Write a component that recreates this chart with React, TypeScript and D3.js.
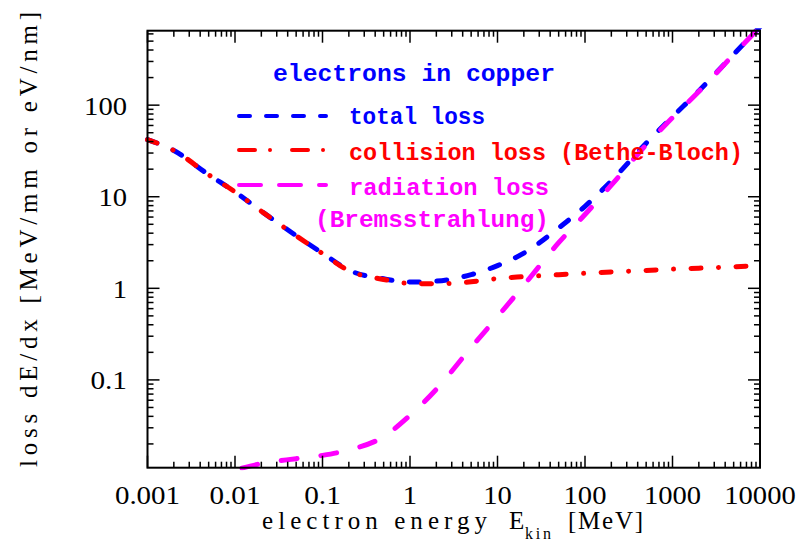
import * as d3 from 'd3';

// electron kinetic energy grid [MeV]
const energy = [0.001, 0.002, 0.005, 0.01, 0.02, 0.05, 0.1, 0.2, 0.5, 1, 2, 5, 10, 20, 50, 100, 200, 500, 1000, 2000, 5000, 10000];
// dE/dx [MeV/mm]
const totalLoss = [42, 32, 17.4, 11.3, 6.96, 3.76, 2.42, 1.58, 1.27, 1.17, 1.2, 1.41, 1.77, 2.42, 4.56, 7.86, 14.9, 38.4, 74.6, 143, 359, 717];
const collisionLoss = [42, 32, 17.4, 11.3, 6.95, 3.75, 2.4, 1.56, 1.25, 1.13, 1.12, 1.18, 1.28, 1.34, 1.41, 1.46, 1.51, 1.57, 1.62, 1.66, 1.72, 1.78];
const radEnergy = [0.012, 0.02, 0.05, 0.1, 0.2, 0.5, 1, 2, 5, 10, 20, 50, 100, 200, 500, 1000, 2000, 5000, 10000];
const radiationLoss = [0.0109, 0.0122, 0.0138, 0.015, 0.0172, 0.024, 0.041, 0.079, 0.226, 0.49, 1.08, 3.15, 6.4, 13.4, 36.8, 73, 141, 357, 715];

const xTickValues = [0.001, 0.01, 0.1, 1, 10, 100, 1000, 10000];
const xTickLabels = ['0.001', '0.01', '0.1', '1', '10', '100', '1000', '10000'];
const yTickValues = [0.1, 1, 10, 100];
const yTickLabels = ['0.1', '1', '10', '100'];

const BLUE = '#0000ff';
const RED = '#ff0000';
const MAGENTA = '#ff00ff';
const SERIF = "'Liberation Serif', 'DejaVu Serif', serif";
const MONO = "'Liberation Mono', 'DejaVu Sans Mono', monospace";

const labelWidth = (s: string) => s.replace(/\./g, '').length * 14.3 + (s.match(/\./g)?.length ?? 0) * 8;

export default function App() {
  const x = d3.scaleLog().domain([0.001, 10000]).range([147.5, 760]);
  const y = d3.scaleLog().domain([0.011, 650]).range([467.7, 30.7]);
  const [xl, xr] = x.range();
  const [yb, yt] = y.range();

  const line = d3.line<[number, number]>()
    .x(d => x(d[0])).y(d => y(d[1]))
    .curve(d3.curveMonotoneX);

  const totPath = line(energy.map((e, i) => [e, totalLoss[i]]))!;
  const colPath = line(energy.map((e, i) => [e, collisionLoss[i]]))!;
  const radPath = line(radEnergy.map((e, i) => [e, radiationLoss[i]]))!;

  const isMajor = (v: number) => Math.abs(Math.log10(v) - Math.round(Math.log10(v))) < 1e-6;
  const xTicks = x.ticks();
  const yTicks = y.ticks().filter(v => v >= 0.011 && v <= 650);

  const serif = { fontFamily: SERIF };
  const mono = { fontFamily: MONO, fontWeight: 700 };

  return (
    <svg width={801} height={542} style={{ position: 'absolute', left: 0, top: 0, background: '#fff' }}>
      <defs>
        <clipPath id="plotClip">
          <rect x={xl - 2.5} y={yt - 2.5} width={xr - xl + 5} height={yb - yt + 5} />
        </clipPath>
      </defs>

      {/* curves */}
      <g clipPath="url(#plotClip)" fill="none" strokeWidth={5} strokeLinecap="round" strokeLinejoin="round">
        <path d={totPath} stroke={BLUE} strokeDasharray="10 17.5" />
        <path d={colPath} stroke={RED} strokeDasharray="10 17.5 0.01 17.5" />
        <path d={radPath} stroke={MAGENTA} strokeDasharray="16 24" />
      </g>

      {/* frame and ticks */}
      <rect x={xl} y={yt} width={xr - xl} height={yb - yt} fill="none" stroke="#000" strokeWidth={2} />
      <g stroke="#000" strokeWidth={1.5}>
        {xTicks.map((v, i) => {
          const len = isMajor(v) ? 12 : 6;
          return (
            <g key={'xt' + i}>
              <line x1={x(v)} x2={x(v)} y1={yb} y2={yb - len} />
              <line x1={x(v)} x2={x(v)} y1={yt} y2={yt + len} />
            </g>
          );
        })}
        {yTicks.map((v, i) => {
          const len = isMajor(v) ? 12 : 6;
          return (
            <g key={'yt' + i}>
              <line x1={xl} x2={xl + len} y1={y(v)} y2={y(v)} />
              <line x1={xr} x2={xr - len} y1={y(v)} y2={y(v)} />
            </g>
          );
        })}
      </g>

      {/* tick labels */}
      <g style={serif} fontSize={25} fill="#000">
        {xTickValues.map((v, i) => (
          <text key={'xl' + i} x={x(v)} y={504} textAnchor="middle"
            textLength={labelWidth(xTickLabels[i])} lengthAdjust="spacingAndGlyphs">{xTickLabels[i]}</text>
        ))}
        {yTickValues.map((v, i) => (
          <text key={'yl' + i} x={127} y={y(v) + 9.5} textAnchor="end"
            textLength={labelWidth(yTickLabels[i])} lengthAdjust="spacingAndGlyphs">{yTickLabels[i]}</text>
        ))}
      </g>

      {/* axis titles */}
      <g style={serif} fill="#000">
        <text x={262} y={529} fontSize={25} textLength={225} lengthAdjust="spacing">electron energy</text>
        <text x={509} y={529} fontSize={25}>E</text>
        <text x={525} y={539} fontSize={16} textLength={26} lengthAdjust="spacing">kin</text>
        <text x={568} y={529} fontSize={25} textLength={75} lengthAdjust="spacing">[MeV]</text>
        <text transform="translate(37,239.5) rotate(-90)" textAnchor="middle" fontSize={25}
          textLength={455} lengthAdjust="spacing">loss dE/dx [MeV/mm or eV/nm]</text>
      </g>

      {/* legend */}
      <g style={mono} fontSize={24}>
        <text x={273} y={81} fill={BLUE} textLength={282} lengthAdjust="spacingAndGlyphs">electrons in copper</text>
        <line x1={239} x2={326} y1={116} y2={116} stroke={BLUE} strokeWidth={4} strokeLinecap="round" strokeDasharray="11 16" />
        <text x={349} y={124} fill={BLUE} textLength={136} lengthAdjust="spacingAndGlyphs">total loss</text>
        <line x1={239} x2={326} y1={150} y2={150} stroke={RED} strokeWidth={4} strokeLinecap="round" strokeDasharray="16 15 0.01 22" />
        <text x={349} y={160} fill={RED} textLength={394} lengthAdjust="spacingAndGlyphs">collision loss (Bethe-Bloch)</text>
        <line x1={239} x2={326} y1={185} y2={185} stroke={MAGENTA} strokeWidth={4} strokeLinecap="round" strokeDasharray="22 18" />
        <text x={349} y={195} fill={MAGENTA} textLength={200} lengthAdjust="spacingAndGlyphs">radiation loss</text>
        <text x={315} y={227} fill={MAGENTA} textLength={234} lengthAdjust="spacingAndGlyphs">(Bremsstrahlung)</text>
      </g>
    </svg>
  );
}
